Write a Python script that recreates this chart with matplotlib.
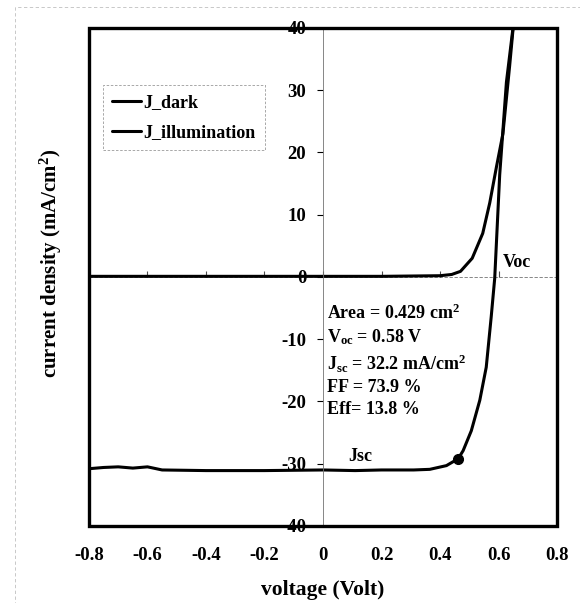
import matplotlib
matplotlib.use("Agg")
import matplotlib.pyplot as plt
from matplotlib.patches import Rectangle

# ── Data ──────────────────────────────────────────────────────────────────────
v_dark = [-0.8, -0.6, -0.4, -0.2, 0.0, 0.2, 0.4, 0.44, 0.47, 0.51,
          0.546, 0.57, 0.593, 0.615, 0.638, 0.652]
j_dark = [0.1, 0.1, 0.1, 0.1, 0.1, 0.1, 0.2, 0.4, 0.9, 3.0,
          7.0, 11.9, 17.7, 23.0, 33.9, 41.0]

v_illum = [-0.8, -0.75, -0.7, -0.65, -0.6, -0.55, -0.4, -0.2, 0.0, 0.11,
           0.2, 0.31, 0.365, 0.422, 0.462, 0.479, 0.507, 0.536, 0.558,
           0.575, 0.587, 0.604, 0.627, 0.652]
j_illum = [-30.8, -30.6, -30.5, -30.7, -30.5, -31.0, -31.1, -31.1, -31.0, -31.1,
           -31.0, -31.0, -30.9, -30.3, -29.2, -27.9, -24.7, -19.8, -14.5,
           -6.4, -0.2, 16.4, 31.3, 41.0]

jsc_point = (0.46, -29.2)

x_ticks = [-0.8, -0.6, -0.4, -0.2, 0, 0.2, 0.4, 0.6, 0.8]
x_labels = ["-0.8", "-0.6", "-0.4", "-0.2", "0", "0.2", "0.4", "0.6", "0.8"]
y_ticks = [-40, -30, -20, -10, 0, 10, 20, 30, 40]

info_lines = [
    "Area = 0.429 cm$^2$",
    "V$_{oc}$ = 0.58 V",
    "J$_{sc}$ = 32.2 mA/cm$^2$",
    "FF = 73.9 %",
    "Eff= 13.8 %",
]
info_y = [-5.8, -9.7, -13.9, -17.7, -21.3]

# ── Style ─────────────────────────────────────────────────────────────────────
plt.rcParams["font.family"] = ["Liberation Serif", "DejaVu Serif"]
plt.rcParams["font.weight"] = "bold"
plt.rcParams["axes.unicode_minus"] = False
plt.rcParams["mathtext.fontset"] = "custom"
plt.rcParams["mathtext.rm"] = "Liberation Serif:bold"
plt.rcParams["mathtext.it"] = "Liberation Serif:bold"
plt.rcParams["mathtext.bf"] = "Liberation Serif:bold"

fig = plt.figure(figsize=(5.8, 6.03), dpi=100)
ax = fig.add_axes([0.1534, 0.1277, 0.807, 0.826])

# faint outer chart-area border (scan of an Excel chart)
fig.patches.append(Rectangle((0.026, -0.01), 0.98, 0.998, transform=fig.transFigure,
                             fill=False, lw=0.6, ls=(0, (4, 3)), ec="0.75"))

ax.plot(v_dark, j_dark, color="black", lw=2.2, label="J_dark", solid_capstyle="round")
ax.plot(v_illum, j_illum, color="black", lw=2.2, label="J_illumination",
        solid_capstyle="round")
ax.plot(*jsc_point, "o", color="black", ms=7, zorder=4)

ax.set_xlim(-0.8, 0.8)
ax.set_ylim(-40, 40)

# y axis crosses at x = 0, thin line, labels left of it
ax.spines["left"].set_position(("data", 0))
ax.spines["left"].set_linewidth(0.6)
ax.spines["left"].set_color("0.45")
for side in ["top", "right", "bottom"]:
    ax.spines[side].set_visible(False)
ax.add_patch(Rectangle((0, 0), 1, 1, transform=ax.transAxes, fill=False,
                       lw=2.4, ec="black", zorder=5, clip_on=False))

ax.set_yticks(y_ticks)
ax.tick_params(axis="y", direction="out", length=4, width=0.8, pad=8, labelsize=13.5)

# x labels at the bottom of the frame, tick marks on the y = 0 line
ax.set_xticks(x_ticks)
ax.set_xticklabels(x_labels)
ax.tick_params(axis="x", length=0, pad=15, labelsize=13.5)
ax.axhline(0, color="0.45", lw=0.6, ls=(0, (4, 2)), zorder=1)
ax.plot(x_ticks[1:-1], [0] * (len(x_ticks) - 2), ls="none", marker=2, ms=4,
        mew=0.8, color="0.3", zorder=1)

for lbl in ax.get_xticklabels() + ax.get_yticklabels():
    lbl.set_fontweight("bold")

ax.set_xlabel("voltage (Volt)", fontsize=15.5, fontweight="bold", labelpad=12)
fig.text(0.088, 0.564, "current density (mA/cm$^2$)", rotation=90, fontsize=15,
         fontweight="bold", ha="center", va="center")

# annotations
ax.text(0.614, 2.4, "Voc", fontsize=13, fontweight="bold", ha="left", va="center")
ax.text(0.085, -28.8, "Jsc", fontsize=13, fontweight="bold", ha="left", va="center")
for yy, line in zip(info_y, info_lines):
    ax.text(0.015, yy, line, fontsize=13, fontweight="bold", ha="left", va="center")

leg = ax.legend(loc="upper left", bbox_to_anchor=(0.03, 0.885), frameon=True,
                fancybox=False, handlelength=1.6, handletextpad=0.15,
                borderpad=0.5, labelspacing=0.7, borderaxespad=0,
                prop={"weight": "bold", "size": 13})
leg.get_frame().set_edgecolor("0.5")
leg.get_frame().set_linewidth(0.6)
leg.get_frame().set_linestyle((0, (3, 2)))

fig.savefig("out.png", dpi=100)
